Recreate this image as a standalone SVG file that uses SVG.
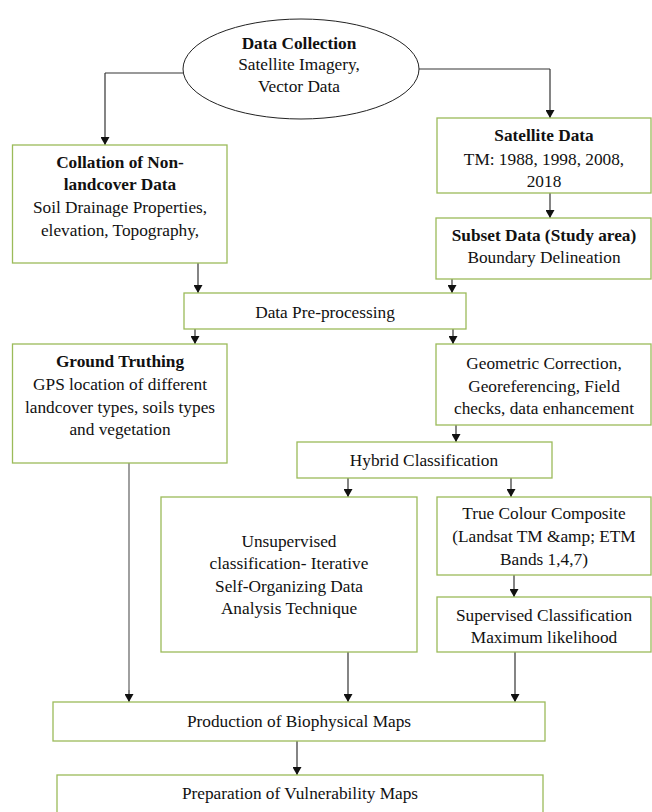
<svg xmlns="http://www.w3.org/2000/svg" width="652" height="812" viewBox="0 0 652 812">
<defs>
<marker id="arr" viewBox="0 0 8 9" markerWidth="8" markerHeight="9" refX="8" refY="4.5" orient="auto" markerUnits="userSpaceOnUse">
<path d="M0,0 L8,4.5 L0,9 z" fill="#111"/>
</marker>
<style>
.box{fill:#fff;stroke:#9bbb59;stroke-width:1.3}
.ell{fill:#fff;stroke:#222;stroke-width:1}
text{font-family:"Liberation Serif","Times New Roman",serif;font-size:17.3px;fill:#111;text-anchor:middle}
.b{font-weight:bold}
.c{fill:none;stroke:#333;stroke-width:1.2}
.g{fill:none;stroke:#777;stroke-width:1.4}
</style>
</defs>
<rect width="652" height="812" fill="#fff"/>
<g id="connectors">
<path class="g" d="M183,73 H105"/>
<path class="c" d="M105,73 V145" marker-end="url(#arr)"/>
<path class="g" d="M419,69 H550"/>
<path class="c" d="M550,69 V118" marker-end="url(#arr)"/>
<path class="c" d="M550,193 V218" marker-end="url(#arr)"/>
<path class="c" d="M198,263 V293" marker-end="url(#arr)"/>
<path class="c" d="M452,279 V293" marker-end="url(#arr)"/>
<path class="c" d="M195,329 V344" marker-end="url(#arr)"/>
<path class="c" d="M453,329 V344" marker-end="url(#arr)"/>
<path class="c" d="M456,425 V442" marker-end="url(#arr)"/>
<path class="c" d="M348,478 V497" marker-end="url(#arr)"/>
<path class="c" d="M511,478 V497" marker-end="url(#arr)"/>
<path class="c" d="M514,575 V597" marker-end="url(#arr)"/>
<path class="g" d="M129,463 V690"/>
<path class="c" d="M129,690 V702" marker-end="url(#arr)"/>
<path class="c" d="M348,652 V702" marker-end="url(#arr)"/>
<path class="c" d="M515,652 V702" marker-end="url(#arr)"/>
<path class="c" d="M297,741 V775" marker-end="url(#arr)"/>
</g>
<g id="data-collection">
<ellipse class="ell" cx="301" cy="69" rx="118" ry="50"/>
<text x="299" y="49" class="b">Data Collection</text>
<text x="299" y="70">Satellite Imagery,</text>
<text x="299" y="92">Vector Data</text>
</g>
<g id="collation">
<rect class="box" x="12.5" y="145" width="214.5" height="118"/>
<text x="120" y="168" class="b">Collation of Non-</text>
<text x="120" y="190" class="b">landcover Data</text>
<text x="120" y="213">Soil Drainage Properties,</text>
<text x="120" y="236">elevation, Topography,</text>
</g>
<g id="satellite-data">
<rect class="box" x="437" y="118" width="214" height="75"/>
<text x="544" y="141" class="b">Satellite Data</text>
<text x="544" y="165">TM: 1988, 1998, 2008,</text>
<text x="544" y="187">2018</text>
</g>
<g id="subset-data">
<rect class="box" x="436" y="218" width="215" height="61"/>
<text x="544" y="241" class="b">Subset Data (Study area)</text>
<text x="544" y="263">Boundary Delineation</text>
</g>
<g id="pre-processing">
<rect class="box" x="184" y="293" width="282" height="36"/>
<text x="325" y="318">Data Pre-processing</text>
</g>
<g id="ground-truthing">
<rect class="box" x="12.5" y="344" width="214.5" height="119"/>
<text x="120" y="367" class="b">Ground Truthing</text>
<text x="120" y="390">GPS location of different</text>
<text x="120" y="413">landcover types, soils types</text>
<text x="120" y="435">and vegetation</text>
</g>
<g id="geometric-correction">
<rect class="box" x="436" y="344" width="215" height="81"/>
<text x="544" y="369">Geometric Correction,</text>
<text x="544" y="392">Georeferencing, Field</text>
<text x="544" y="414">checks, data enhancement</text>
</g>
<g id="hybrid-classification">
<rect class="box" x="297" y="442" width="255" height="36"/>
<text x="424" y="466">Hybrid Classification</text>
</g>
<g id="unsupervised">
<rect class="box" x="161" y="497" width="256" height="155"/>
<text x="289" y="547">Unsupervised</text>
<text x="289" y="569">classification- Iterative</text>
<text x="289" y="592">Self-Organizing Data</text>
<text x="289" y="614">Analysis Technique</text>
</g>
<g id="true-colour">
<rect class="box" x="437" y="497" width="214" height="78"/>
<text x="544" y="519">True Colour Composite</text>
<text x="544" y="542">(Landsat TM &amp;amp; ETM</text>
<text x="544" y="565">Bands 1,4,7)</text>
</g>
<g id="supervised">
<rect class="box" x="437" y="597" width="214" height="55"/>
<text x="544" y="621">Supervised Classification</text>
<text x="544" y="643">Maximum likelihood</text>
</g>
<g id="biophysical-maps">
<rect class="box" x="53" y="702" width="492" height="39"/>
<text x="299" y="727">Production of Biophysical Maps</text>
</g>
<g id="vulnerability-maps">
<rect class="box" x="57" y="775" width="486" height="40"/>
<text x="300" y="799">Preparation of Vulnerability Maps</text>
</g>
</svg>
